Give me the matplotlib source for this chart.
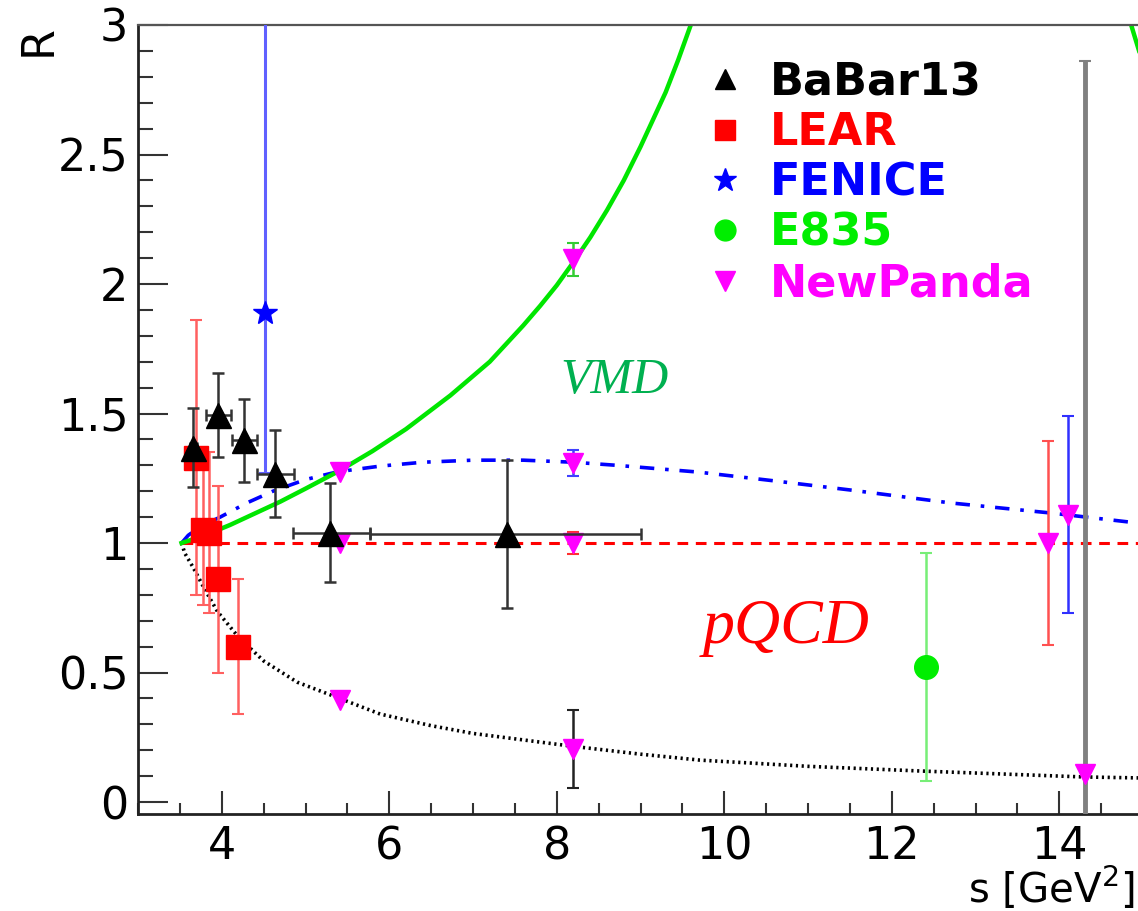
import matplotlib
matplotlib.use('Agg')
import matplotlib.pyplot as plt
import matplotlib.ticker as mticker
from matplotlib.lines import Line2D

plt.rcParams['font.family'] = ['DejaVu Sans']
plt.rcParams['mathtext.fontset'] = 'dejavusans'

# ---------------- data ----------------
babar_s = [3.66, 3.96, 4.27, 4.63, 5.29, 7.40]
babar_R = [1.368, 1.494, 1.396, 1.268, 1.04, 1.035]
babar_Rerr = [0.152, 0.162, 0.16, 0.168, 0.19, 0.285]
babar_serr_lo = [0.04, 0.15, 0.15, 0.21, 0.44, 1.63]
babar_serr_hi = [0.04, 0.15, 0.15, 0.23, 0.48, 1.61]

lear_s = [3.69, 3.78, 3.85, 3.96, 4.19]
lear_R = [1.33, 1.05, 1.04, 0.86, 0.60]
lear_Rerr = [0.53, 0.29, 0.31, 0.36, 0.26]

fenice_s = [4.52]
fenice_R = [1.89]
fenice_err_lo = [0.62]
fenice_err_hi = [1.5]

e835_s = [12.41]
e835_R = [0.52]
e835_err = [0.44]

newpanda_s = [5.41, 5.41, 5.41, 8.20, 8.20, 8.20, 8.20, 13.87, 14.11, 14.31]
newpanda_R = [1.275, 1.00, 0.394, 2.095, 1.31, 1.00, 0.205, 1.00, 1.11, 0.11]
newpanda_err = [0.0, 0.0, 0.0, 0.065, 0.05, 0.043, 0.15, 0.395, 0.38, 2.75]
newpanda_errcolor = ['#00dd00', '#ff3030', '#222222', '#33cc33', '#4040ff', '#ff3030',
                     '#222222', '#ff5050', '#3030ff', '#808080']

# model curves
vmd_s = [3.52, 3.80, 4.10, 4.40, 4.70, 5.00, 5.41, 5.80, 6.20, 6.73, 7.20, 7.60, 7.80,
         8.00, 8.20, 8.40, 8.60, 8.80, 9.00, 9.15, 9.30, 9.45, 9.60, 9.80]
vmd_R = [1.00, 1.03, 1.07, 1.115, 1.16, 1.21, 1.28, 1.355, 1.44, 1.57, 1.70, 1.84, 1.915,
         1.995, 2.085, 2.18, 2.285, 2.40, 2.53, 2.635, 2.74, 2.865, 3.00, 3.20]
vmd2_s = [14.84, 15.0]
vmd2_R = [3.02, 2.85]

blue_s = [3.52, 3.60, 3.75, 3.98, 4.30, 4.61, 5.00, 5.38, 5.89, 6.40, 7.00, 7.60, 8.20,
          8.72, 9.69, 10.6, 11.5, 12.7, 13.9, 15.0]
blue_R = [1.00, 1.03, 1.065, 1.10, 1.155, 1.20, 1.245, 1.275, 1.297, 1.312, 1.32, 1.32,
          1.312, 1.30, 1.274, 1.24, 1.205, 1.155, 1.116, 1.075]

pqcd_s = [3.52, 15.0]
pqcd_R = [1.0, 1.0]

black_s = [3.52, 3.56, 3.66, 3.80, 3.95, 4.20, 4.50, 4.90, 5.41, 5.89, 6.50, 7.00, 7.60,
           8.20, 9.00, 9.71, 11.0, 12.34, 14.29, 15.0]
black_R = [1.00, 0.96, 0.905, 0.82, 0.735, 0.637, 0.545, 0.463, 0.40, 0.34, 0.295, 0.265,
           0.24, 0.215, 0.185, 0.162, 0.138, 0.12, 0.097, 0.093]

legend_labels = ['BaBar13', 'LEAR', 'FENICE', 'E835', 'NewPanda']
legend_colors = ['black', '#ff0000', '#0000ff', '#00ee00', '#ff00ff']

# ---------------- figure ----------------
W, H = 1138, 911
fig = plt.figure(figsize=(W / 100, H / 100), dpi=100)
ax = fig.add_axes([138 / W, 97 / H, 1005 / W, 789 / H])
ax.set_xlim(3, 15)
ax.set_ylim(-0.046, 3.0)

# curves
ax.plot(black_s, black_R, color='black', lw=2.6, ls=(0, (0.6, 1.0)), zorder=2)
ax.plot(pqcd_s, pqcd_R, color='#ff0000', lw=2.2, ls=(0, (3.5, 2.5)), zorder=2)
ax.plot(blue_s, blue_R, color='#0000ff', lw=2.6, ls=(0, (4, 3, 1, 3)), zorder=2)
ax.plot(vmd_s, vmd_R, color='#00e600', lw=3.2, zorder=2)
ax.plot(vmd2_s, vmd2_R, color='#00e600', lw=3.2, zorder=2)

# E835
ax.errorbar(e835_s, e835_R, yerr=e835_err, fmt='o', color='#00ee00', ms=17,
            ecolor='#77ee77', elinewidth=1.8, capsize=4, capthick=1.5, zorder=4)

# FENICE
ax.errorbar(fenice_s, fenice_R, yerr=[fenice_err_lo, fenice_err_hi], fmt='*',
            color='#0000ff', ms=18, ecolor='#6060ff', elinewidth=2.2, capsize=4,
            capthick=1.5, zorder=4)

# LEAR
ax.errorbar(lear_s, lear_R, yerr=lear_Rerr, fmt='s', color='#ff0000', ms=17,
            ecolor='#ff6060', elinewidth=1.8, capsize=4, capthick=1.5, zorder=5)

# NewPanda
for s, r, e, c in zip(newpanda_s, newpanda_R, newpanda_err, newpanda_errcolor):
    if e > 0:
        lw = 3.5 if c == '#808080' else 1.8
        ax.errorbar([s], [r], yerr=[e], fmt='none', ecolor=c, elinewidth=lw,
                    capsize=4, capthick=1.5, zorder=5)
ax.plot(newpanda_s, newpanda_R, ls='none', marker='v', color='#ff00ff', ms=15, zorder=6)

# BaBar
ax.errorbar(babar_s, babar_R, yerr=babar_Rerr, xerr=[babar_serr_lo, babar_serr_hi],
            fmt='^', color='black', ms=18, ecolor='#333333', elinewidth=1.8,
            capsize=4, capthick=1.8, zorder=7)

# annotations
ax.text(8.04, 1.58, 'VMD', family='Liberation Serif', style='italic', fontsize=36,
        color='#00b050', ha='left', va='baseline')
ax.text(9.74, 0.614, 'pQCD', family='Liberation Serif', style='italic', fontsize=46,
        color='#ff0000', ha='left', va='baseline')

# legend
handles = [
    Line2D([], [], ls='none', marker='^', color=legend_colors[0], ms=15),
    Line2D([], [], ls='none', marker='s', color=legend_colors[1], ms=15),
    Line2D([], [], ls='none', marker='*', color=legend_colors[2], ms=17),
    Line2D([], [], ls='none', marker='o', color=legend_colors[3], ms=15),
    Line2D([], [], ls='none', marker='v', color=legend_colors[4], ms=15),
]
ax.legend(handles, legend_labels, loc='upper left', bbox_to_anchor=(703 / W, (H - 61) / H),
          bbox_transform=fig.transFigure, frameon=False,
          prop={'weight': 'bold', 'size': 32}, handlelength=1.0, handletextpad=0.5,
          labelspacing=0.165, borderpad=0, borderaxespad=0, labelcolor=legend_colors)

# axes styling
for side in ['left', 'bottom']:
    ax.spines[side].set_linewidth(2.0)
    ax.spines[side].set_color('#222222')
ax.spines['top'].set_linewidth(1.6)
ax.spines['top'].set_color('#555555')
ax.spines['right'].set_visible(False)

ax.xaxis.set_major_locator(mticker.MultipleLocator(2))
ax.xaxis.set_minor_locator(mticker.MultipleLocator(0.5))
ax.yaxis.set_major_locator(mticker.MultipleLocator(0.5))
ax.yaxis.set_minor_locator(mticker.MultipleLocator(0.1))
fmt = mticker.FuncFormatter(lambda v, p: f'{v:g}')
ax.xaxis.set_major_formatter(fmt)
ax.yaxis.set_major_formatter(fmt)
ax.tick_params(which='both', direction='in', top=False, right=False, color='#333333')
ax.tick_params(axis='y', which='major', length=21.6, width=1.5, labelsize=32, pad=7)
ax.tick_params(axis='y', which='minor', length=10.8, width=1.5)
ax.tick_params(axis='x', which='major', length=16.5, width=1.5, labelsize=32, pad=8)
ax.tick_params(axis='x', which='minor', length=8, width=1.5)

ax.set_xlabel('s [GeV$^{2}$]', fontsize=29, loc='right')
ax.xaxis.set_label_coords(0.992, -0.0646)
ax.set_ylabel('R', fontsize=32, loc='top')
ax.yaxis.set_label_coords(-0.078, 1.0)

fig.savefig('out.png', dpi=100)
